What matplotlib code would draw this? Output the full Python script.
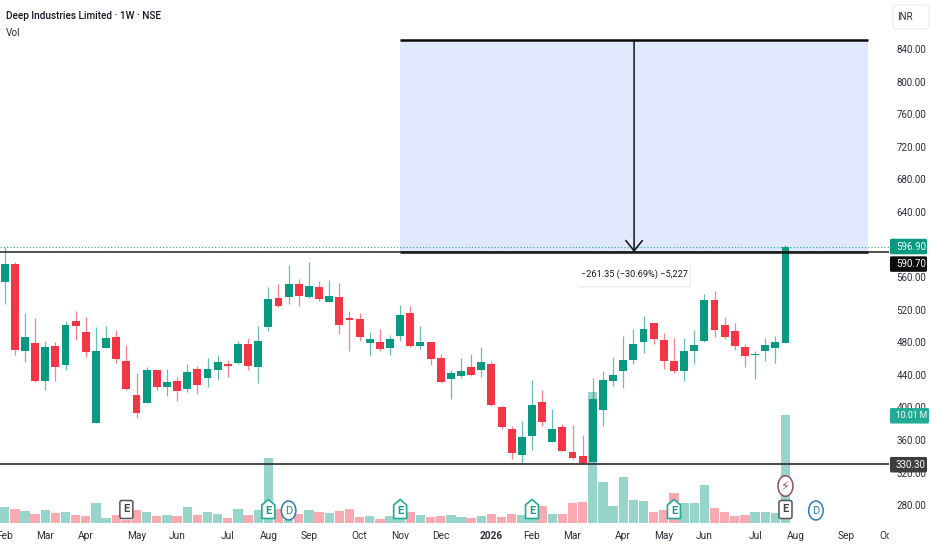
import matplotlib
matplotlib.use("Agg")
import matplotlib.pyplot as plt
from matplotlib.patches import FancyBboxPatch, Polygon, Ellipse, Rectangle
from matplotlib.transforms import Bbox
import numpy as np

FONT = ['Roboto', 'DejaVu Sans']
plt.rcParams['font.family'] = FONT

opens = [554.4,576.1,468.9,479.1,432.4,475.8,452.1,506.1,492.6,380.9,473.4,486.4,456.6,415.2,405.8,446,425.1,432.4,423,446.8,
         436.1,446,453.7,454.1,477.9,449.6,498.7,534.7,535.5,551.5,535.1,547.8,529,536,509.4,508.5,479.5,480.3,472.5,488.1,
         515.5,475.8,480.3,460.3,434.9,438.6,449.2,446,452.9,401,373.1,341.2,365.3,407,358,376,345.7,340.8,333.4,396.4,
         432.4,444.7,458.2,480.7,503.6,482.8,456.6,444.7,468.9,481.9,532.3,501.2,493.8,474.2,464.8,468.9,473.4,479.5]
highs = [597,578.5,515.5,509.4,481.5,479.9,506.1,518.4,510.6,498.7,500,495,477,442.3,449.6,446,447.2,437.4,452.9,450.4,
         460.3,464.8,457.8,481.5,485.2,500,548.2,551.5,574.4,557.2,578.5,555.2,556.4,552.7,518.4,515.5,492.6,496.3,489,525.3,
         524.1,500,480.3,465.2,445.5,460.3,465.2,474.6,456.6,401.8,376.8,383,433.7,421.4,397.7,379.6,378.4,366.1,436.1,444.7,
         462.3,487.7,496.3,512.2,503.6,491.4,485.6,485.2,495,539.6,543.3,510.6,503.6,478.3,469.7,485.2,487.7,599.8]
lows = [527,464.8,455.8,431.6,421.8,432.4,446,482.8,461.5,380.9,473.4,454.5,421.8,386.6,405.8,421.8,414.4,408.3,419.3,416.9,
        425.1,433.7,437.4,453.3,446,430,494.2,523.7,527,524.1,534.7,531,529,490.1,468.9,482,462.7,468.9,464,482,
        474.6,472.1,452.1,430.4,410.8,436.5,439,437.4,401.8,373.9,336.7,331.4,348.1,377.2,358,346.1,337.1,331,333.4,377.2,
        426.3,423.9,452.9,466.4,478.3,447.2,442.3,432.4,452.9,480.7,486.4,484.4,470.9,449.6,434.9,456.6,454.1,479.5]
closes = [576.1,470.5,486.4,432.4,474.6,449.6,501.2,500,467.6,469.7,485.2,459.4,423,392.7,446,425.5,431.2,420.6,443.1,428,
          446.8,455.4,450.9,477.9,450.9,481.5,533.5,524.9,551.5,536.4,549,532.7,537.2,501.6,506.9,486.9,484,472.1,484,513,
          475.8,480.3,459.4,431.2,441.9,444.3,439.8,455.4,402.6,376,344.5,363.7,403.4,382.1,373.1,346.9,337.5,331.4,410.8,433.7,
          439.8,457.8,477.9,496.3,484.4,457,444.7,469.7,476.6,532.3,495.5,486.9,475,462.7,466,476.6,480.3,596.9]
volumes = [1.49,1.30,1.12,.84,1.21,.93,1.02,.74,.65,1.86,.50,.74,.25,1.21,1.02,.65,.74,.65,1.49,.74,
           1.02,.84,.50,1.30,.74,1.21,6.04,1.30,.31,.84,1.21,1.02,.93,1.12,1.30,.56,.65,.37,.65,.40,
           1.02,.74,.56,.65,.74,.56,.46,.65,.84,.56,.84,.74,.56,1.58,.84,.84,1.83,1.95,12.14,3.78,
           1.58,4.31,2.11,2.01,1.02,1.21,2.76,1.83,1.83,3.56,1.39,1.02,.65,.74,1.02,1.02,.93,10.01]

tick_idx = [0,4,8,13,17,22,26,30,35,39,43,48,52,56,61,65,69,74,78,83,87]
tick_lab = ['Feb','Mar','Apr','May','Jun','Jul','Aug','Sep','Oct','Nov','Dec','2026','Feb','Mar','Apr','May','Jun','Jul','Aug','Sep','Oct']
price_ticks = list(range(280, 880, 40))
box_left, box_right = 39, 85.14
box_top, box_bottom = 851, 590.7
support = 330.3
last_price = 596.9
last_vol = 10.01
gray_e = [12, 77]
house_e = [26, 39, 52, 66]
div_d = [28, 80]
split = [77]

GREEN, RED = '#089981', '#F23645'
W, H = 932, 550
fig = plt.figure(figsize=(W/100, H/100), dpi=100, facecolor='white')
PANE_R, PANE_B = 889, 523
pos = [0, (H-PANE_B)/H, PANE_R/W, PANE_B/H]
xlim = (-4.7/10.14, (PANE_R-4.7)/10.14)

axv = fig.add_axes(pos, zorder=1)
ax = fig.add_axes(pos, zorder=2)
ax.patch.set_alpha(0)
for a in (ax, axv):
    a.set_xlim(*xlim)
    for s in a.spines.values():
        s.set_visible(False)
axv.set_ylim(0, PANE_B/10.76)
axv.set_yticks([]); axv.set_xticks([])
ax.set_ylim(840-(PANE_B-49)/0.8146, 840+49/0.8146)

x = np.arange(len(opens))
up = np.array(closes) >= np.array(opens)
cols = np.where(up, GREEN, RED)
axv.bar(x, volumes, width=0.92, color=cols, alpha=0.42, linewidth=0)

# measure box
ax.add_patch(Rectangle((box_left, box_bottom), box_right-box_left, box_top-box_bottom,
                       facecolor='#E0E8FD', edgecolor='none', zorder=1))
for yv in (box_top, box_bottom):
    ax.plot([box_left, box_right], [yv, yv], color='#0b0b0b', lw=1.8, zorder=4, solid_capstyle='butt')
ax.axhline(box_bottom, color='#222222', lw=1.1, zorder=4)
ax.axhline(support, color='#2a2a2a', lw=1.2, zorder=4)
ax.axhline(last_price, color=GREEN, lw=0.9, ls=(0, (1, 1.6)), alpha=.75, zorder=2)

# candles
ax.vlines(x, lows, highs, colors=cols, lw=0.9, alpha=0.62, zorder=3)
bottoms = np.minimum(opens, closes)
heights = np.abs(np.array(closes)-np.array(opens))
ax.bar(x, heights, bottom=bottoms, width=0.78, color=cols, linewidth=0, zorder=3)

xmid = (box_left+box_right)/2
ax.annotate('', xy=(xmid, box_bottom), xytext=(xmid, box_top),
            arrowprops=dict(arrowstyle='->,head_width=0.6,head_length=0.75', color='#111111', lw=1.1,
                            shrinkA=0, shrinkB=0), zorder=5)

# axes text
ax.yaxis.tick_right()
ax.set_yticks(price_ticks)
ax.set_yticklabels([f'{p:.2f}' for p in price_ticks], fontsize=7, color='#2a2e39')
ax.tick_params(axis='y', length=0, pad=5.2)
ax.set_xticks(tick_idx)
ax.set_xticklabels(tick_lab, fontsize=7.3, color='#2a2e39')
ax.tick_params(axis='x', length=0, pad=5.8)
clipbox = Bbox([[0, 0], [PANE_R, H]])
for i, t in enumerate(ax.get_xticklabels()):
    t.set_clip_box(clipbox)
    t.set_clip_on(True)
    if tick_lab[i] == '2026':
        t.set_fontweight('bold')

# overlay in pixels
ov = fig.add_axes([0, 0, 1, 1], zorder=5)
ov.set_xlim(0, W); ov.set_ylim(H, 0); ov.axis('off')

def px(i):
    return 4.7 + 10.14*i

def py(p):
    return 49 + (840-p)*0.8146

ov.text(6, 16, 'Deep Industries Limited · 1W · NSE', fontsize=7.2, color='#131722', va='center', ha='left', fontweight='medium')
ov.text(6, 32.5, 'Vol', fontsize=7.2, color='#2a2e39', va='center', ha='left')

# INR box
ov.add_patch(FancyBboxPatch((893, 5), 36, 24, boxstyle='round,pad=0,rounding_size=3', fc='white', ec='#ececef', lw=.8))
ov.text(905, 17.5, 'INR', fontsize=7, color='#2a2e39', ha='center', va='center')

def badge(yc, text, color, fc='white', w=37, h=15.5, fs=7):
    ov.add_patch(FancyBboxPatch((890, yc-h/2), w, h, boxstyle='round,pad=0,rounding_size=1.5', fc=color, ec='none', zorder=6))
    ov.text(896, yc, text, fontsize=fs, color=fc, ha='left', va='center', zorder=7)

badge(py(last_price)-0.5, f'{last_price:.2f}', GREEN)
badge(py(box_bottom)+12, f'{box_bottom:.2f}', '#0c0c0c')
badge(py(support)+0.5, f'{support:.2f}', '#3d3d3d')
badge(523-last_vol*10.76+0.5, f'{last_vol:.2f} M', '#22AB94', w=39, fs=6.2)

# value tooltip
cx = px(xmid)
ov.add_patch(FancyBboxPatch((577, 263.5), 114, 24, boxstyle='round,pad=0,rounding_size=3', fc='#e6e6e9', ec='none', alpha=.7, zorder=6))
ov.add_patch(FancyBboxPatch((576, 262), 114, 24, boxstyle='round,pad=0,rounding_size=3', fc='white', ec='none', zorder=6))
ov.text(cx, 274, '−261.35 (−30.69%) −5,227', fontsize=6.6, color='#131722', ha='center', va='center', zorder=7)

# event icons
for i in gray_e:
    c = px(i)
    ov.add_patch(FancyBboxPatch((c-6.5, 500.5), 13, 18, boxstyle='round,pad=0,rounding_size=2', fc='white', ec='#555555', lw=1.1, zorder=6))
    ov.text(c, 509.5, 'E', fontsize=8, color='#444444', ha='center', va='center', fontweight='bold', zorder=7)
for i in house_e:
    c = px(i)
    ov.add_patch(Polygon([(c-6.5, 505), (c, 499.5), (c+6.5, 505), (c+6.5, 518.5), (c-6.5, 518.5)], closed=True,
                         fc='white', ec='#22AB94', lw=1.2, zorder=6, joinstyle='round'))
    ov.text(c, 510.5, 'E', fontsize=8, color='#1c9a85', ha='center', va='center', fontweight='bold', zorder=7)
for i in div_d:
    c = px(i)
    ov.add_patch(Ellipse((c, 510.5), 14.5, 19, fc='white', ec='#2a7fa8', lw=1.1, zorder=6))
    ov.text(c, 510.5, 'D', fontsize=8, color='#2a7fa8', ha='center', va='center', zorder=7)
for i in split:
    c = px(i)
    ov.add_patch(Ellipse((c, 486), 15, 20.5, fc='white', ec='#8a4f6d', lw=1.1, zorder=6))
    ov.text(c, 486, '⚡', fontsize=9, color='#8a4f6d', ha='center', va='center', zorder=7, family='DejaVu Sans')

fig.savefig('out.png', dpi=100)
